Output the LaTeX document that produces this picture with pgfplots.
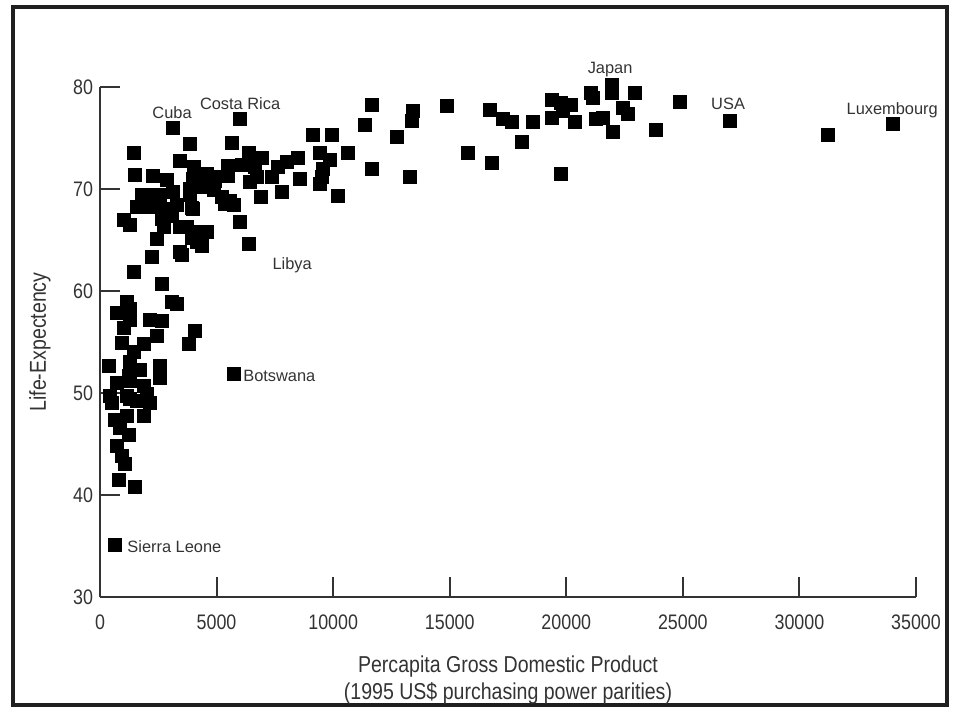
\documentclass[border=0pt]{standalone}
\usepackage{fontspec}
\setmainfont{Liberation Sans}
\newfontfamily\condfont[FakeStretch=0.85]{Liberation Sans}
\usepackage{pgfplots}
\pgfplotsset{compat=1.18}
\definecolor{txt}{HTML}{333333}
\pgfplotstableread{
x y
11650 78.2
13440 77.6
13370 76.7
14870 78.1
16720 77.7
17290 76.9
17650 76.6
18580 76.6
18080 74.6
16800 72.5
15800 73.5
11370 76.3
9150 75.3
9940 75.3
12720 75.1
9440 73.5
10650 73.5
9870 72.8
8510 73.0
8010 72.6
7650 72.2
9580 72.0
7370 71.2
8580 71.0
9510 71.2
11650 72.0
13290 71.2
9440 70.5
7800 69.7
10200 69.3
19370 78.7
19790 78.4
20220 78.2
19370 77.0
19870 77.6
20360 76.6
19790 71.5
21080 79.4
21150 78.9
21940 80.2
21940 79.4
22940 79.4
21290 76.9
21580 77.0
22440 77.9
22650 77.4
22010 75.6
23860 75.8
24860 78.5
27010 76.7
31220 75.3
34000 76.4
6010 76.9
3150 76.0
3870 74.4
5650 74.5
1470 73.5
3440 72.7
6370 73.5
6940 73.0
4050 72.2
5510 72.3
6100 72.4
6650 72.2
1510 71.4
2280 71.3
2870 70.9
4580 71.5
4650 71.2
4940 71.2
4010 71.0
5510 71.3
6440 70.7
6730 71.2
3870 70.0
4080 70.5
4440 70.2
4870 69.9
4940 70.8
1800 69.4
2370 69.4
2580 69.4
3150 69.7
5230 69.2
5580 68.8
6900 69.2
1590 68.2
1730 68.2
2160 68.2
2730 68.0
3300 68.4
3870 69.4
3940 68.1
5370 68.5
5730 68.4
1050 67.0
1300 66.5
2660 67.1
3080 67.4
4010 68.0
6010 66.8
2730 66.3
3440 66.3
3730 66.3
4010 65.8
4580 65.8
2440 65.1
3940 65.2
4160 64.8
4370 64.4
6370 64.6
3440 63.8
3510 63.5
2230 63.3
1440 61.9
2660 60.7
1160 58.9
3080 58.9
3300 58.7
730 57.8
1300 58.2
1300 57.2
2160 57.2
2660 57.1
1010 56.4
4080 56.1
940 54.9
1870 54.8
3800 54.8
2440 55.6
1440 54.0
370 52.6
1300 53.0
1730 52.3
2580 52.6
2580 51.5
1230 51.7
5730 51.9
730 51.0
1300 51.2
1870 50.7
440 49.7
510 49.0
1160 49.7
1300 49.4
2010 49.9
2160 49.0
1590 49.2
660 47.4
1160 47.7
1870 47.7
870 46.6
1230 45.9
730 44.8
940 43.8
1080 43.0
800 41.5
1510 40.8
660 35.1
}\countries
\begin{document}
\begin{tikzpicture}
\path[use as bounding box] (-50pt,-57pt) rectangle (428pt,298.5pt);
\draw[line width=2pt, black!88] (-43.25pt,-54pt) rectangle (423.5pt,294.75pt);
\begin{axis}[
  at={(0pt,0pt)}, anchor=south west,
  scale only axis, width=408pt, height=255pt,
  xmin=0, xmax=35000, ymin=30, ymax=80,
  axis x line*=bottom, axis y line*=left,
  axis line style={line width=1.2pt, black!80},
  xtick={0,5000,...,35000}, ytick={30,40,...,80},
  tick align=inside, major tick length=10pt,
  tick style={line width=1pt, black!80},
  scaled x ticks=false,
  /pgf/number format/assume math mode=true,
  xticklabel style={/pgf/number format/1000 sep={}, font=\condfont\fontsize{10.5}{12}\selectfont, text=txt, yshift=-5.5pt},
  yticklabel style={font=\condfont\fontsize{10.5}{12}\selectfont, text=txt},
  xlabel={Percapita Gross Domestic Product\\(1995 US\$ purchasing power parities)},
  xlabel style={at={(axis description cs:0.5,0)}, anchor=north, yshift=-26pt, align=center, font=\condfont\fontsize{11.5}{13.5}\selectfont, text=txt},
  ylabel={Life-Expectency},
  ylabel style={at={(axis description cs:-0.0735,0.5)}, anchor=center, font=\condfont\fontsize{11.5}{13}\selectfont, text=txt},
  clip=false,
]
\addplot[only marks, mark=square*, mark size=3.25pt, mark options={fill=black, draw=black, line width=0pt}] table[x=x, y=y] {\countries};
\begin{scope}[every node/.style={font=\fontsize{8.2}{10}\selectfont, text=txt}]
\node at (axis cs:21880,81.7) {Japan};
\node at (axis cs:26940,78.3) {USA};
\node at (axis cs:33980,77.7) {Luxembourg};
\node at (axis cs:6010,78.4) {Costa Rica};
\node at (axis cs:3090,77.5) {Cuba};
\node at (axis cs:8240,62.5) {Libya};
\node[anchor=west, inner sep=0pt] at (axis cs:6130,51.7) {Botswana};
\node[anchor=west, inner sep=0pt] at (axis cs:1160,34.9) {Sierra Leone};
\end{scope}
\end{axis}
\end{tikzpicture}
\end{document}
